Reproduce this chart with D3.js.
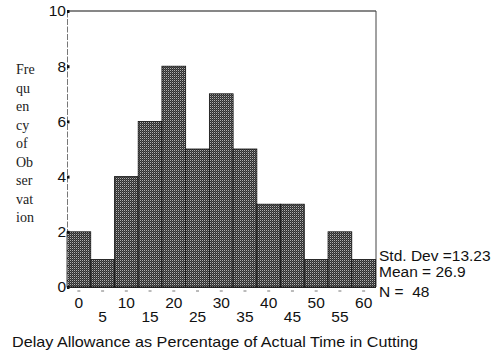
<!DOCTYPE html>
<html><head><meta charset="utf-8">
<script src="https://cdn.jsdelivr.net/npm/d3@7"></script>
<style>body{margin:0;background:#fff}svg{display:block}text{white-space:pre}</style>
</head><body><svg id="c" width="491" height="360"></svg>
<script>
const binCenters = [0,5,10,15,20,25,30,35,40,45,50,55,60];
const counts = [2,1,4,6,8,5,7,5,3,3,1,2,1];
const yTicks = [0,2,4,6,8,10];
const yTitleLines = ["Fre","qu","en","cy","of","Ob","ser","vat","ion"];
const statsLines = ["Std. Dev =13.23","Mean = 26.9","N =  48"];
const xTitle = "Delay Allowance as Percentage of Actual Time in Cutting";

const svg = d3.select("#c");
const L = 67, R = 375.5, T = 11, B = 287;
const x = d3.scaleBand().domain(binCenters).range([L, R]).padding(0);
const y = d3.scaleLinear().domain([0, 10]).range([B, T]);

const defs = svg.append("defs");
const pat = defs.append("pattern").attr("id","chk").attr("patternUnits","userSpaceOnUse")
  .attr("width",2).attr("height",2);
pat.append("rect").attr("width",2).attr("height",2).attr("fill","#2e2e2e");
pat.append("rect").attr("x",0).attr("y",0).attr("width",1).attr("height",1).attr("fill","#b0b0b0");
pat.append("rect").attr("x",1).attr("y",1).attr("width",1).attr("height",1).attr("fill","#555");

// frame: top and right
svg.append("line").attr("x1",L).attr("x2",R+0.5).attr("y1",T).attr("y2",T).attr("stroke","#111").attr("stroke-width",1.2);
svg.append("line").attr("x1",R+0.5).attr("x2",R+0.5).attr("y1",T).attr("y2",B).attr("stroke","#444").attr("stroke-width",1);

// bars
svg.append("g").selectAll("rect").data(counts).join("rect")
  .attr("x",(d,i)=>x(binCenters[i]))
  .attr("y",d=>y(d))
  .attr("width",x.bandwidth())
  .attr("height",d=>B-y(d))
  .attr("fill","url(#chk)")
  .attr("stroke","#111").attr("stroke-width",0.8);

// left axis
const ya = svg.append("g").attr("transform",`translate(${L},0)`)
  .call(d3.axisLeft(y).tickValues(yTicks).tickSize(0).tickPadding(1));
ya.select(".domain").attr("stroke","#777").attr("stroke-dasharray","6,1.5");
ya.selectAll("text").attr("font-family","Liberation Sans, Arial, sans-serif").attr("font-size",15.5).attr("fill","#111");
ya.selectAll(".tick").append("rect").attr("x",0).attr("y",-1.5).attr("width",2.5).attr("height",3).attr("fill","#111");

// bottom axis
const xa = svg.append("g").attr("transform",`translate(0,${B})`)
  .call(d3.axisBottom(x).tickSize(0).tickPadding(0).tickFormat(d=>d));
xa.select(".domain").attr("stroke","#222").attr("stroke-width",1);
xa.selectAll(".tick").append("line").attr("x1",-1.5).attr("x2",1.5).attr("y1",4).attr("y2",4).attr("stroke","#777");
xa.selectAll("text")
  .attr("font-family","Liberation Sans, Arial, sans-serif").attr("font-size",15.5).attr("fill","#111")
  .attr("dy",null)
  .attr("y",(d,i)=> i%2===0 ? 21 : 35);

// y title
svg.append("g").selectAll("text").data(yTitleLines).join("text")
  .attr("x",16).attr("y",(d,i)=>74+i*18.5)
  .attr("font-family","Liberation Serif, Times New Roman, serif").attr("font-size",14).attr("fill","#222")
  .text(d=>d);

// stats
svg.append("g").selectAll("text").data(statsLines).join("text")
  .attr("x",379).attr("y",(d,i)=>[261,277,297][i])
  .attr("font-family","Liberation Sans, Arial, sans-serif").attr("font-size",15.5).attr("fill","#111")
  .text(d=>d);

// x title
svg.append("text").attr("x",12).attr("y",347)
  .attr("font-family","Liberation Sans, Arial, sans-serif").attr("font-size",15)
  .attr("textLength",406).attr("lengthAdjust","spacingAndGlyphs").attr("fill","#111")
  .text(xTitle);
</script></body></html>
